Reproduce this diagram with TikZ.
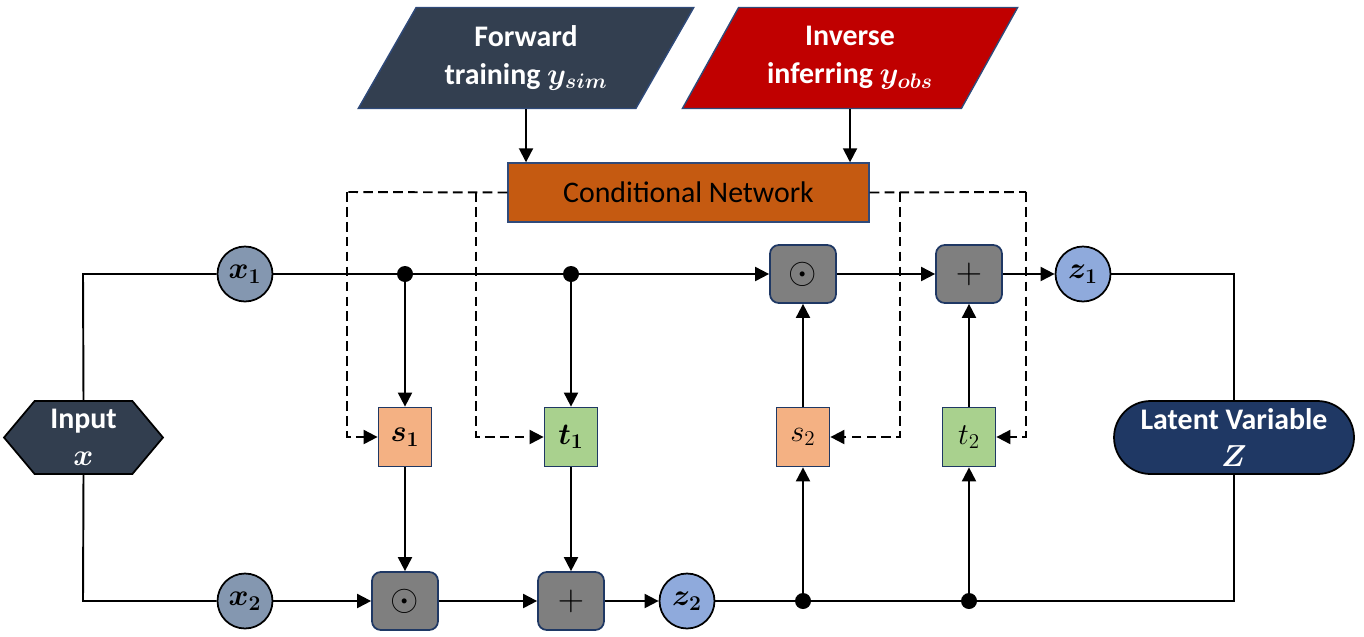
\documentclass[tikz,border=0pt]{standalone}
\usepackage{amsmath}
\usepackage{bm}
\usepackage{fontspec}
\setmainfont{Carlito}
\usetikzlibrary{arrows.meta,shapes.geometric,shapes.misc,shapes.symbols}
\definecolor{fwdc}{HTML}{333F50}
\definecolor{invc}{HTML}{C00000}
\definecolor{cnc}{HTML}{C55A11}
\definecolor{xcol}{HTML}{8497B0}
\definecolor{zcol}{HTML}{8FAADC}
\definecolor{opc}{HTML}{7F7F7F}
\definecolor{sc}{HTML}{F4B183}
\definecolor{tc}{HTML}{A9D18E}
\definecolor{navyb}{HTML}{1F3864}
\definecolor{edgeb}{HTML}{2F4A7A}
\definecolor{inpc}{HTML}{323E4F}
\begin{document}
\begin{tikzpicture}[x=0.02cm,y=-0.02cm,
  solid line/.style={line width=1.1pt},
  arr/.style={line width=1.1pt,-{Triangle[length=8pt,width=8pt]}},
  dashline/.style={line width=1.1pt,dash pattern=on 5.5pt off 3pt},
  darr/.style={dashline,-{Triangle[length=8pt,width=8pt]}},
  para/.style={trapezium,trapezium stretches=true,trapezium left angle=56.4,trapezium right angle=123.6,
    minimum width=6.72cm,minimum height=2.02cm,inner sep=0pt,draw=edgeb,line width=0.8pt,
    text=white,align=center,font=\fontsize{17}{21.5}\selectfont},
  circ/.style={circle,draw=black,line width=1pt,minimum size=1.1cm,inner sep=0pt,
    font=\fontsize{18}{18}\selectfont},
  opbox/.style={rectangle,rounded corners=5pt,draw=navyb,fill=opc,line width=1pt,
    minimum width=1.32cm,minimum height=1.16cm,inner sep=0pt,font=\fontsize{20}{20}\selectfont},
  fnbox/.style={rectangle,draw=navyb,line width=1pt,minimum width=1.06cm,minimum height=1.18cm,
    inner sep=0pt,font=\fontsize{18}{18}\selectfont},
  dotn/.style={circle,fill=black,minimum size=0.32cm,inner sep=0pt}
]
\useasboundingbox (0,0) rectangle (1364,636);

% top inputs
\node[para,fill=fwdc] (fwd) at (526,58) {\textbf{Forward}\\\textbf{training} {\fontsize{18}{18}\selectfont$\bm{y_{sim}}$}};
\node[para,fill=invc] (inv) at (850,58) {\textbf{Inverse}\\\textbf{inferring} {\fontsize{18}{18}\selectfont$\bm{y_{obs}}$}};

% conditional network
\node[rectangle,draw=edgeb,line width=0.8pt,fill=cnc,minimum width=7.22cm,minimum height=1.18cm,
  font=\fontsize{17}{17}\selectfont] (cn) at (688.5,192.5) {Conditional Network};

% input and latent
\node[signal,signal to=west and east,signal pointer angle=100,fill=inpc,draw=black,line width=1pt,
  minimum width=3.18cm,minimum height=1.46cm,inner sep=0pt,text=white,align=center,
  font=\fontsize{17}{21}\selectfont] (inp) at (83.5,437.5) {\textbf{Input}\\{\fontsize{18}{18}\selectfont$\bm{x}$}};
\node[rounded rectangle,fill=navyb,draw=black,line width=1pt,minimum width=4.8cm,minimum height=1.46cm,
  inner sep=0pt,text=white,align=center,font=\fontsize{17}{21}\selectfont]
  (lat) at (1234,437.5) {\textbf{Latent Variable}\\{\fontsize{18}{18}\selectfont$\bm{Z}$}};

% circles
\node[circ,fill=xcol] (x1) at (245,274) {$\bm{x_1}$};
\node[circ,fill=xcol] (x2) at (245,601) {$\bm{x_2}$};
\node[circ,fill=zcol] (z1) at (1083,274) {$\bm{z_1}$};
\node[circ,fill=zcol] (z2) at (687,601) {$\bm{z_2}$};

% operator boxes
\node[opbox] (o1) at (803,274) {$\odot$};
\node[opbox] (p1) at (969,274) {$+$};
\node[opbox] (o2) at (405,601) {$\odot$};
\node[opbox] (p2) at (571,601) {$+$};

% s, t boxes
\node[fnbox,fill=sc] (s1) at (405,437) {$\bm{s_1}$};
\node[fnbox,fill=tc] (t1) at (571,437) {$\bm{t_1}$};
\node[fnbox,fill=sc] (s2) at (803,437) {$s_2$};
\node[fnbox,fill=tc] (t2) at (969,437) {$t_2$};

% dots
\node[dotn] (d1) at (405,274) {};
\node[dotn] (d2) at (571,274) {};
\node[dotn] (d3) at (803,601) {};
\node[dotn] (d4) at (969,601) {};

% corner coordinates
\coordinate (ctl) at (83,274);
\coordinate (cbl) at (83,601);
\coordinate (ctr) at (1234,274);
\coordinate (cbr) at (1234,601);
\coordinate (dA) at (347,192);
\coordinate (dB) at (476,192);
\coordinate (dC) at (900,192);
\coordinate (dD) at (1026,192);

% arrows from inputs
\draw[arr] (fwd.south) -- (fwd.south |- cn.north);
\draw[arr] (inv.south) -- (inv.south |- cn.north);

% dashed conditioning
\draw[dashline] (cn.west) -- (dA);
\draw[darr] (dA) |- (s1.west);
\draw[darr] (dB) |- (t1.west);
\draw[dashline] (cn.east) -- (dD);
\draw[darr] (dD) |- (t2.east);
\draw[darr] (dC) |- (s2.east);

% input split
\draw[solid line] (inp.north) -- (ctl) -- (x1.west);
\draw[solid line] (inp.south) -- (cbl) -- (x2.west);

% top path
\draw[solid line] (x1.east) -- (d1.center) -- (d2.center);
\draw[arr] (d2.center) -- (o1.west);
\draw[arr] (o1.east) -- (p1.west);
\draw[arr] (p1.east) -- (z1.west);
\draw[solid line] (z1.east) -- (ctr) -- (lat.north);

% bottom path
\draw[arr] (x2.east) -- (o2.west);
\draw[arr] (o2.east) -- (p2.west);
\draw[arr] (p2.east) -- (z2.west);
\draw[solid line] (z2.east) -- (d3.center) -- (d4.center) -- (cbr) -- (lat.south);

% verticals
\draw[arr] (d1.center) -- (s1.north);
\draw[arr] (s1.south) -- (o2.north);
\draw[arr] (d2.center) -- (t1.north);
\draw[arr] (t1.south) -- (p2.north);
\draw[arr] (d3.center) -- (s2.south);
\draw[arr] (s2.north) -- (o1.south);
\draw[arr] (d4.center) -- (t2.south);
\draw[arr] (t2.north) -- (p1.south);
\end{tikzpicture}
\end{document}
